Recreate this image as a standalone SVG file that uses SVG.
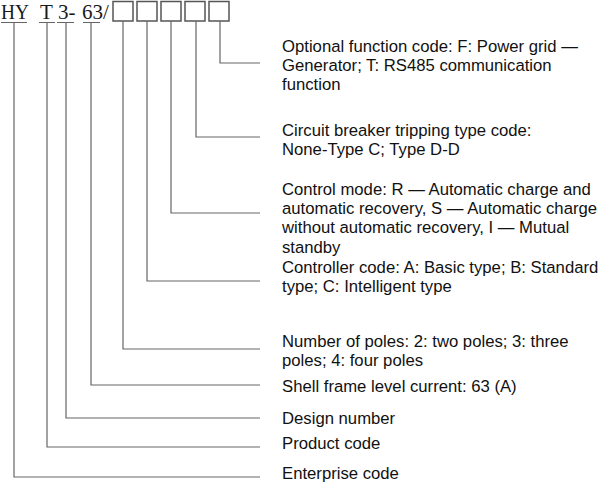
<svg xmlns="http://www.w3.org/2000/svg" width="600" height="482" viewBox="0 0 600 482">
<style>
.code{font-family:"Liberation Serif","Times New Roman",serif;font-size:21px;fill:#1a1a1a}
.lbl{font-family:"Liberation Sans",Arial,sans-serif;font-size:16.7px;fill:#111}
.box{fill:#fff;stroke:#555;stroke-width:1.5}
.ln{fill:none;stroke:#666;stroke-width:1.2}
</style>
<rect width="600" height="482" fill="#fff"/>
<g id="code">
<text class="code" x="1" y="19" textLength="28" lengthAdjust="spacingAndGlyphs">HY</text>
<text class="code" x="40" y="19">T</text>
<text class="code" x="58" y="19">3-</text>
<text class="code" x="82" y="19">63/</text>
<rect class="box" x="113" y="1.5" width="20" height="19.5"/>
<rect class="box" x="137" y="1.5" width="20" height="19.5"/>
<rect class="box" x="161" y="1.5" width="20" height="19.5"/>
<rect class="box" x="185" y="1.5" width="20" height="19.5"/>
<rect class="box" x="209" y="1.5" width="20" height="19.5"/>
</g>
<g id="connectors">
<path class="ln" d="M1,22.5H27M39,22.5H55M57,22.5H74M83,22.5H100"/>
<path class="ln" d="M220,21V63H260"/>
<path class="ln" d="M196,21V137H260"/>
<path class="ln" d="M171,21V213H260"/>
<path class="ln" d="M147,21V281H260"/>
<path class="ln" d="M123,21V349H260"/>
<path class="ln" d="M91,22.5V385H260"/>
<path class="ln" d="M66,22.5V418H260"/>
<path class="ln" d="M47,22.5V447H260"/>
<path class="ln" d="M14,22.5V477H260"/>
</g>
<g id="optional">
<text class="lbl" x="282" y="52">Optional function code: F: Power grid —</text>
<text class="lbl" x="282" y="71.2">Generator; T: RS485 communication</text>
<text class="lbl" x="282" y="90.4">function</text>
</g>
<g id="tripping">
<text class="lbl" x="282" y="136">Circuit breaker tripping type code:</text>
<text class="lbl" x="282" y="155.2">None-Type C; Type D-D</text>
</g>
<g id="control">
<text class="lbl" x="282" y="195">Control mode: R — Automatic charge and</text>
<text class="lbl" x="282" y="214.2">automatic recovery, S — Automatic charge</text>
<text class="lbl" x="282" y="233.4">without automatic recovery, I — Mutual</text>
<text class="lbl" x="282" y="252.6">standby</text>
</g>
<g id="controller">
<text class="lbl" x="282" y="273">Controller code: A: Basic type; B: Standard</text>
<text class="lbl" x="282" y="292.2">type; C: Intelligent type</text>
</g>
<g id="poles">
<text class="lbl" x="282" y="347">Number of poles: 2: two poles; 3: three</text>
<text class="lbl" x="282" y="366.2">poles; 4: four poles</text>
</g>
<g id="shell"><text class="lbl" x="282" y="392">Shell frame level current: 63 (A)</text></g>
<g id="design"><text class="lbl" x="282" y="424">Design number</text></g>
<g id="product"><text class="lbl" x="282" y="449">Product code</text></g>
<g id="enterprise"><text class="lbl" x="282" y="479">Enterprise code</text></g>
</svg>
